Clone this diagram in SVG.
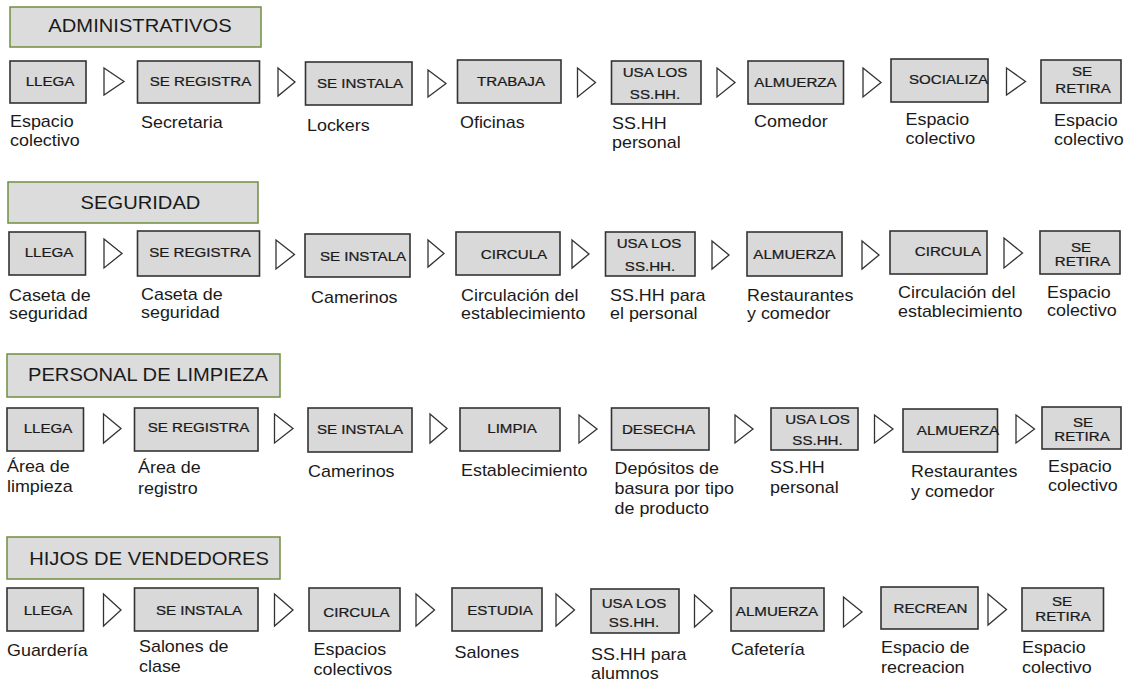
<svg xmlns="http://www.w3.org/2000/svg" width="1133" height="682" viewBox="0 0 1133 682">
<style>
text{font-family:"Liberation Sans",Arial,sans-serif;fill:#1a1a1a}
.hd{fill:#dcdcdc;stroke:#6f8f3f;stroke-width:1.5}
.ht{font-size:18px;text-anchor:middle}
.bx{fill:#d9d9d9;stroke:#333;stroke-width:1.6}
.bt{font-size:13.5px;text-anchor:middle;stroke:#1a1a1a;stroke-width:0.25}
.lb{font-size:16px}
.ar{fill:#fff;stroke:#333;stroke-width:1.3;stroke-linejoin:miter}
</style>
<rect width="1133" height="682" fill="#fff"/>

<!-- headers -->
<g id="h1"><rect class="hd" x="10" y="7" width="251" height="40"/><text class="ht" transform="translate(140 32) scale(1.12 1)">ADMINISTRATIVOS</text></g>
<g id="h2"><rect class="hd" x="8" y="182" width="250" height="41"/><text class="ht" transform="translate(140.5 209) scale(1.12 1)">SEGURIDAD</text></g>
<g id="h3"><rect class="hd" x="7" y="354" width="273" height="43"/><text class="ht" transform="translate(148 381) scale(1.12 1)">PERSONAL DE LIMPIEZA</text></g>
<g id="h4"><rect class="hd" x="7" y="537" width="273" height="42"/><text class="ht" transform="translate(149 565) scale(1.12 1)">HIJOS DE VENDEDORES</text></g>

<!-- row 1 -->
<g id="n1_1"><rect class="bx" x="10" y="61" width="76" height="42"/><text class="bt" transform="translate(50 86) scale(1.12 1)">LLEGA</text>
<text class="lb" transform="translate(10 127) scale(1.12 1)"><tspan x="0">Espacio</tspan><tspan x="0" dy="19">colectivo</tspan></text></g>
<g id="n1_2"><rect class="bx" x="137.5" y="61" width="122" height="42"/><text class="bt" transform="translate(200.5 86) scale(1.12 1)">SE REGISTRA</text>
<text class="lb" transform="translate(141 128) scale(1.12 1)">Secretaria</text></g>
<g id="n1_3"><rect class="bx" x="305.5" y="62" width="106.5" height="43"/><text class="bt" transform="translate(360 88) scale(1.12 1)">SE INSTALA</text>
<text class="lb" transform="translate(307 131) scale(1.12 1)">Lockers</text></g>
<g id="n1_4"><rect class="bx" x="457.5" y="60" width="103.5" height="43"/><text class="bt" transform="translate(511 86) scale(1.12 1)">TRABAJA</text>
<text class="lb" transform="translate(460 128) scale(1.12 1)">Oficinas</text></g>
<g id="n1_5"><rect class="bx" x="611.5" y="61" width="89.5" height="43"/><text class="bt" transform="translate(655 77) scale(1.12 1)">USA LOS</text><text class="bt" transform="translate(655 99) scale(1.12 1)">SS.HH.</text>
<text class="lb" transform="translate(612 129) scale(1.12 1)"><tspan x="0">SS.HH</tspan><tspan x="0" dy="19">personal</tspan></text></g>
<g id="n1_6"><rect class="bx" x="748" y="61" width="95.5" height="43"/><text class="bt" transform="translate(795.5 87) scale(1.12 1)">ALMUERZA</text>
<text class="lb" transform="translate(754 127) scale(1.12 1)">Comedor</text></g>
<g id="n1_7"><rect class="bx" x="891" y="59" width="97" height="43"/><text class="bt" transform="translate(948.5 84) scale(1.12 1)">SOCIALIZA</text>
<text class="lb" transform="translate(905.5 125) scale(1.12 1)"><tspan x="0">Espacio</tspan><tspan x="0" dy="19">colectivo</tspan></text></g>
<g id="n1_8"><rect class="bx" x="1041" y="60" width="80" height="43"/><text class="bt" transform="translate(1082 76) scale(1.12 1)">SE</text><text class="bt" transform="translate(1083 93) scale(1.12 1)">RETIRA</text>
<text class="lb" transform="translate(1054 126) scale(1.12 1)"><tspan x="0">Espacio</tspan><tspan x="0" dy="19">colectivo</tspan></text></g>

<!-- row 2 -->
<g id="n2_1"><rect class="bx" x="9" y="232" width="76.5" height="43"/><text class="bt" transform="translate(49 257) scale(1.12 1)">LLEGA</text>
<text class="lb" transform="translate(9 301) scale(1.12 1)"><tspan x="0">Caseta de</tspan><tspan x="0" dy="18">seguridad</tspan></text></g>
<g id="n2_2"><rect class="bx" x="137.5" y="231" width="122" height="45"/><text class="bt" transform="translate(200 257) scale(1.12 1)">SE REGISTRA</text>
<text class="lb" transform="translate(141 300) scale(1.12 1)"><tspan x="0">Caseta de</tspan><tspan x="0" dy="18">seguridad</tspan></text></g>
<g id="n2_3"><rect class="bx" x="305" y="234" width="105" height="43"/><text class="bt" transform="translate(363 261) scale(1.12 1)">SE INSTALA</text>
<text class="lb" transform="translate(311 303) scale(1.12 1)">Camerinos</text></g>
<g id="n2_4"><rect class="bx" x="456" y="232" width="104" height="43"/><text class="bt" transform="translate(514 259) scale(1.12 1)">CIRCULA</text>
<text class="lb" transform="translate(461 301) scale(1.12 1)"><tspan x="0">Circulación del</tspan><tspan x="0" dy="18">establecimiento</tspan></text></g>
<g id="n2_5"><rect class="bx" x="605.5" y="232" width="89.5" height="44"/><text class="bt" transform="translate(649 248) scale(1.12 1)">USA LOS</text><text class="bt" transform="translate(650 271) scale(1.12 1)">SS.HH.</text>
<text class="lb" transform="translate(610 301) scale(1.12 1)"><tspan x="0">SS.HH para</tspan><tspan x="0" dy="18">el personal</tspan></text></g>
<g id="n2_6"><rect class="bx" x="747" y="232" width="95" height="44"/><text class="bt" transform="translate(794.5 259) scale(1.12 1)">ALMUERZA</text>
<text class="lb" transform="translate(747 301) scale(1.12 1)"><tspan x="0">Restaurantes</tspan><tspan x="0" dy="18">y comedor</tspan></text></g>
<g id="n2_7"><rect class="bx" x="890" y="231" width="97" height="43"/><text class="bt" transform="translate(948 256) scale(1.12 1)">CIRCULA</text>
<text class="lb" transform="translate(898 298) scale(1.12 1)"><tspan x="0">Circulación del</tspan><tspan x="0" dy="19">establecimiento</tspan></text></g>
<g id="n2_8"><rect class="bx" x="1040" y="231" width="80" height="43"/><text class="bt" transform="translate(1081 252) scale(1.12 1)">SE</text><text class="bt" transform="translate(1082.5 266) scale(1.12 1)">RETIRA</text>
<text class="lb" transform="translate(1047 298) scale(1.12 1)"><tspan x="0">Espacio</tspan><tspan x="0" dy="18">colectivo</tspan></text></g>

<!-- row 3 -->
<g id="n3_1"><rect class="bx" x="7" y="408" width="76.5" height="43"/><text class="bt" transform="translate(48 433) scale(1.12 1)">LLEGA</text>
<text class="lb" transform="translate(7 472) scale(1.12 1)"><tspan x="0">Área de</tspan><tspan x="0" dy="20">limpieza</tspan></text></g>
<g id="n3_2"><rect class="bx" x="134.5" y="408" width="123.5" height="43"/><text class="bt" transform="translate(198.5 432) scale(1.12 1)">SE REGISTRA</text>
<text class="lb" transform="translate(138 473) scale(1.12 1)"><tspan x="0">Área de</tspan><tspan x="0" dy="21">registro</tspan></text></g>
<g id="n3_3"><rect class="bx" x="308" y="408" width="104" height="44"/><text class="bt" transform="translate(360 434) scale(1.12 1)">SE INSTALA</text>
<text class="lb" transform="translate(308 477) scale(1.12 1)">Camerinos</text></g>
<g id="n3_4"><rect class="bx" x="460" y="408" width="100" height="43"/><text class="bt" transform="translate(512 433) scale(1.12 1)">LIMPIA</text>
<text class="lb" transform="translate(461 476) scale(1.12 1)">Establecimiento</text></g>
<g id="n3_5"><rect class="bx" x="611.5" y="408" width="97.5" height="42"/><text class="bt" transform="translate(658.5 434) scale(1.12 1)">DESECHA</text>
<text class="lb" transform="translate(614.5 474) scale(1.12 1)"><tspan x="0">Depósitos de</tspan><tspan x="0" dy="20">basura por tipo</tspan><tspan x="0" dy="20">de producto</tspan></text></g>
<g id="n3_6"><rect class="bx" x="771" y="408" width="87" height="42"/><text class="bt" transform="translate(817.5 424) scale(1.12 1)">USA LOS</text><text class="bt" transform="translate(817.5 445) scale(1.12 1)">SS.HH.</text>
<text class="lb" transform="translate(770 473) scale(1.12 1)"><tspan x="0">SS.HH</tspan><tspan x="0" dy="20">personal</tspan></text></g>
<g id="n3_7"><rect class="bx" x="903" y="409" width="94.5" height="43"/><text class="bt" transform="translate(958 435) scale(1.12 1)">ALMUERZA</text>
<text class="lb" transform="translate(911 477) scale(1.12 1)"><tspan x="0">Restaurantes</tspan><tspan x="0" dy="20">y comedor</tspan></text></g>
<g id="n3_8"><rect class="bx" x="1042" y="407" width="79" height="42"/><text class="bt" transform="translate(1083 427) scale(1.12 1)">SE</text><text class="bt" transform="translate(1082 441) scale(1.12 1)">RETIRA</text>
<text class="lb" transform="translate(1048 472) scale(1.12 1)"><tspan x="0">Espacio</tspan><tspan x="0" dy="19">colectivo</tspan></text></g>

<!-- row 4 -->
<g id="n4_1"><rect class="bx" x="7" y="588" width="76.5" height="43"/><text class="bt" transform="translate(48 615) scale(1.12 1)">LLEGA</text>
<text class="lb" transform="translate(7 656) scale(1.12 1)">Guardería</text></g>
<g id="n4_2"><rect class="bx" x="134.5" y="588" width="123.5" height="43"/><text class="bt" transform="translate(199 615) scale(1.12 1)">SE INSTALA</text>
<text class="lb" transform="translate(139 652) scale(1.12 1)"><tspan x="0">Salones de</tspan><tspan x="0" dy="20">clase</tspan></text></g>
<g id="n4_3"><rect class="bx" x="309" y="588" width="91" height="43"/><text class="bt" transform="translate(356.5 617) scale(1.12 1)">CIRCULA</text>
<text class="lb" transform="translate(313.5 655) scale(1.12 1)"><tspan x="0">Espacios</tspan><tspan x="0" dy="20">colectivos</tspan></text></g>
<g id="n4_4"><rect class="bx" x="452" y="588" width="90" height="43"/><text class="bt" transform="translate(500 615) scale(1.12 1)">ESTUDIA</text>
<text class="lb" transform="translate(454.5 658) scale(1.12 1)">Salones</text></g>
<g id="n4_5"><rect class="bx" x="591" y="589" width="88" height="44"/><text class="bt" transform="translate(634 608) scale(1.12 1)">USA LOS</text><text class="bt" transform="translate(634 627) scale(1.12 1)">SS.HH.</text>
<text class="lb" transform="translate(591 660) scale(1.12 1)"><tspan x="0">SS.HH para</tspan><tspan x="0" dy="19">alumnos</tspan></text></g>
<g id="n4_6"><rect class="bx" x="731" y="588" width="93" height="43"/><text class="bt" transform="translate(777 616) scale(1.12 1)">ALMUERZA</text>
<text class="lb" transform="translate(731 655) scale(1.12 1)">Cafetería</text></g>
<g id="n4_7"><rect class="bx" x="881" y="587" width="97" height="42"/><text class="bt" transform="translate(930.5 613) scale(1.12 1)">RECREAN</text>
<text class="lb" transform="translate(881 653) scale(1.12 1)"><tspan x="0">Espacio de</tspan><tspan x="0" dy="20">recreacion</tspan></text></g>
<g id="n4_8"><rect class="bx" x="1022" y="588" width="81.5" height="43"/><text class="bt" transform="translate(1062 606) scale(1.12 1)">SE</text><text class="bt" transform="translate(1063 621) scale(1.12 1)">RETIRA</text>
<text class="lb" transform="translate(1022 653) scale(1.12 1)"><tspan x="0">Espacio</tspan><tspan x="0" dy="20">colectivo</tspan></text></g>

<!-- connectors -->
<g id="connectors">
<polygon class="ar" points="104,68 124,81.5 104,95"/>
<polygon class="ar" points="278,68 295,82 278,96"/>
<polygon class="ar" points="428,70 446,83.5 428,97"/>
<polygon class="ar" points="577.5,68 595.5,82.5 577.5,97"/>
<polygon class="ar" points="717,68 735,82.5 717,97"/>
<polygon class="ar" points="863,68 881,82.5 863,97"/>
<polygon class="ar" points="1006.5,68 1025.5,81.5 1006.5,95"/>

<polygon class="ar" points="104,239 122,253.5 104,268"/>
<polygon class="ar" points="276,240 294.5,254.5 276,269"/>
<polygon class="ar" points="428,240 444,253.5 428,267"/>
<polygon class="ar" points="572,240 589,254 572,268"/>
<polygon class="ar" points="712,241 729,255 712,269"/>
<polygon class="ar" points="862,241 879,255 862,269"/>
<polygon class="ar" points="1004,238 1022.5,253 1004,268"/>

<polygon class="ar" points="103.5,414 121,428.5 103.5,443"/>
<polygon class="ar" points="274.5,414 293,428.5 274.5,443"/>
<polygon class="ar" points="430,414 447,428.5 430,443"/>
<polygon class="ar" points="579,415 597,429 579,443"/>
<polygon class="ar" points="735,415 753,429 735,443"/>
<polygon class="ar" points="874.5,415 893,429 874.5,443"/>
<polygon class="ar" points="1016,415 1034.5,429 1016,443"/>

<polygon class="ar" points="103.5,594 121,610 103.5,626"/>
<polygon class="ar" points="274.5,594 293,610 274.5,626"/>
<polygon class="ar" points="416,594 434.5,610 416,626"/>
<polygon class="ar" points="556,594 574.5,610 556,626"/>
<polygon class="ar" points="694.5,595 712.5,611 694.5,627"/>
<polygon class="ar" points="843.5,597 862,612 843.5,627"/>
<polygon class="ar" points="988,594 1006.5,609.5 988,625"/>
</g>
</svg>
